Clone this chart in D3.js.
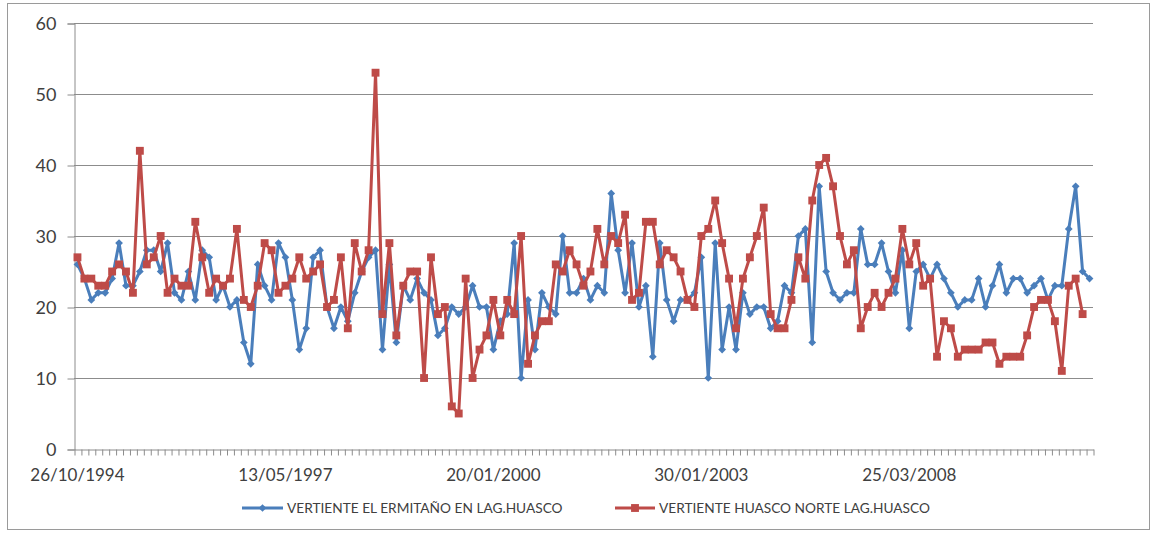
<!DOCTYPE html>
<html>
<head>
<meta charset="utf-8">
<script src="https://cdn.jsdelivr.net/npm/d3@7"></script>
<style>
  body { margin: 0; background: #fff; }
  text { font-family: Lato, "Open Sans", sans-serif; fill: #404040; }
</style>
</head>
<body>
<svg id="chart" width="1156" height="533"></svg>
<script>
// Monthly-ish readings at the two springs feeding Laguna del Huasco
const ermitano = [
  26,24,21,22,22,24,29,23,23,25, 28,28,25,29,22,21,25,21,28,27,
  21,23,20,21,15,12,26,23,21,29, 27,21,14,17,27,28,20,17,20,18,
  22,25,27,28,14,26,15,23,21,24, 22,21,16,17,20,19,20,23,20,20,
  14,18,19,29,10,21,14,22,20,19, 30,22,22,24,21,23,22,36,28,22,
  29,20,23,13,29,21,18,21,21,22, 27,10,29,14,20,14,22,19,20,20,
  17,18,23,22,30,31,15,37,25,22, 21,22,22,31,26,26,29,25,22,28,
  17,25,26,24,26,24,22,20,21,21, 24,20,23,26,22,24,24,22,23,24,
  21,23,23,31,37,25,24
];
const huascoNorte = [
  27,24,24,23,23,25,26,25,22,42, 26,27,30,22,24,23,23,32,27,22,
  24,23,24,31,21,20,23,29,28,22, 23,24,27,24,25,26,20,21,27,17,
  29,25,28,53,19,29,16,23,25,25, 10,27,19,20,6,5,24,10,14,16,
  21,16,21,19,30,12,16,18,18,26, 25,28,26,23,25,31,26,30,29,33,
  21,22,32,32,26,28,27,25,21,20, 30,31,35,29,24,17,24,27,30,34,
  19,17,17,21,27,24,35,40,41,37, 30,26,28,17,20,22,20,22,24,31,
  26,29,23,24,13,18,17,13,14,14, 14,15,15,12,13,13,13,16,20,21,
  21,18,11,23,24,19
];
const seriesNames = ["VERTIENTE EL ERMITAÑO EN LAG.HUASCO", "VERTIENTE HUASCO NORTE LAG.HUASCO"];
const seriesColors = ["#4A7EBB", "#BE4B48"];
const dateLabels = ["26/10/1994", "13/05/1997", "20/01/2000", "30/01/2003", "25/03/2008"];
const labelEvery = 30;
const yTicks = [0, 10, 20, 30, 40, 50, 60];

const svg = d3.select("#chart");
const plot = { left: 74, right: 1093, top: 23, bottom: 449 };

// outer chart frame
svg.append("rect")
  .attr("x", 7.5).attr("y", 3.5).attr("width", 1142).attr("height", 526)
  .attr("fill", "#fff").attr("stroke", "#9a9a9a").attr("stroke-width", 1);

const categories = d3.range(ermitano.length);
const x = d3.scaleBand().domain(categories).range([plot.left, plot.right]);
const xEdges = d3.scaleLinear().domain([0, categories.length]).range([plot.left, plot.right]);
const y = d3.scaleLinear().domain([0, 60]).range([plot.bottom, plot.top]);
const cx = i => x(i) + x.bandwidth() / 2;

// horizontal gridlines
svg.append("g")
  .selectAll("line")
  .data(yTicks.filter(v => v > 0))
  .join("line")
  .attr("x1", plot.left).attr("x2", plot.right)
  .attr("y1", d => Math.round(y(d)) + 0.5).attr("y2", d => Math.round(y(d)) + 0.5)
  .attr("stroke", "#8c8c8c").attr("stroke-width", 1);

// y axis
const yAxis = svg.append("g")
  .attr("transform", `translate(${plot.left + 0.5},0.5)`)
  .call(d3.axisLeft(y).tickValues(yTicks).tickSize(7).tickPadding(11));
yAxis.selectAll("path, line").attr("stroke", "#8c8c8c");
yAxis.selectAll("text").attr("font-size", 18).style("fill", "#404040")
  .style("font-family", "Lato, 'Open Sans', sans-serif");

// x axis: one tick per category boundary
const xAxis = svg.append("g")
  .attr("transform", `translate(0.5,${Math.round(plot.bottom) + 0.5})`)
  .call(d3.axisBottom(xEdges).tickValues(d3.range(0, categories.length + 1)).tickFormat("").tickSize(6).tickSizeOuter(0));
xAxis.selectAll("path, line").attr("stroke", "#8c8c8c");

// date labels every 30 categories
const labelAxis = svg.append("g")
  .attr("transform", `translate(0,${plot.bottom})`)
  .call(d3.axisBottom(x)
    .tickValues(dateLabels.map((d, k) => k * labelEvery))
    .tickFormat((d, k) => dateLabels[k])
    .tickSize(0).tickPadding(20));
labelAxis.select(".domain").remove();
labelAxis.selectAll("text").attr("font-size", 17).style("fill", "#404040")
  .style("font-family", "Lato, 'Open Sans', sans-serif");

// series
const line = d3.line().x((d, i) => cx(i)).y(d => y(d));
const diamond = d3.symbol().type(d3.symbolSquare).size(30);
const square = d3.symbol().type(d3.symbolSquare).size(62);

const data = [ermitano, huascoNorte];
data.forEach((vals, s) => {
  const g = svg.append("g");
  g.append("path").datum(vals)
    .attr("d", line).attr("fill", "none")
    .attr("stroke", seriesColors[s]).attr("stroke-width", 3).attr("stroke-linejoin", "round");
  g.selectAll("path.m").data(vals).join("path").attr("class", "m")
    .attr("d", s === 0 ? diamond : square)
    .attr("transform", (d, i) => `translate(${cx(i)},${y(d)})` + (s === 0 ? " rotate(45)" : ""))
    .attr("fill", seriesColors[s]);
});

// legend
const legendItems = [
  { x0: 242, x1: 283, tx: 287 },
  { x0: 615, x1: 655, tx: 659 }
];
legendItems.forEach((it, s) => {
  const g = svg.append("g");
  g.append("line").attr("x1", it.x0).attr("x2", it.x1).attr("y1", 508).attr("y2", 508)
    .attr("stroke", seriesColors[s]).attr("stroke-width", 3);
  g.append("path")
    .attr("d", s === 0 ? diamond : square)
    .attr("transform", `translate(${(it.x0 + it.x1) / 2},508)` + (s === 0 ? " rotate(45)" : ""))
    .attr("fill", seriesColors[s]);
  g.append("text").attr("x", it.tx).attr("y", 513)
    .attr("font-size", 13.7).text(seriesNames[s]);
});
</script>
</body>
</html>
